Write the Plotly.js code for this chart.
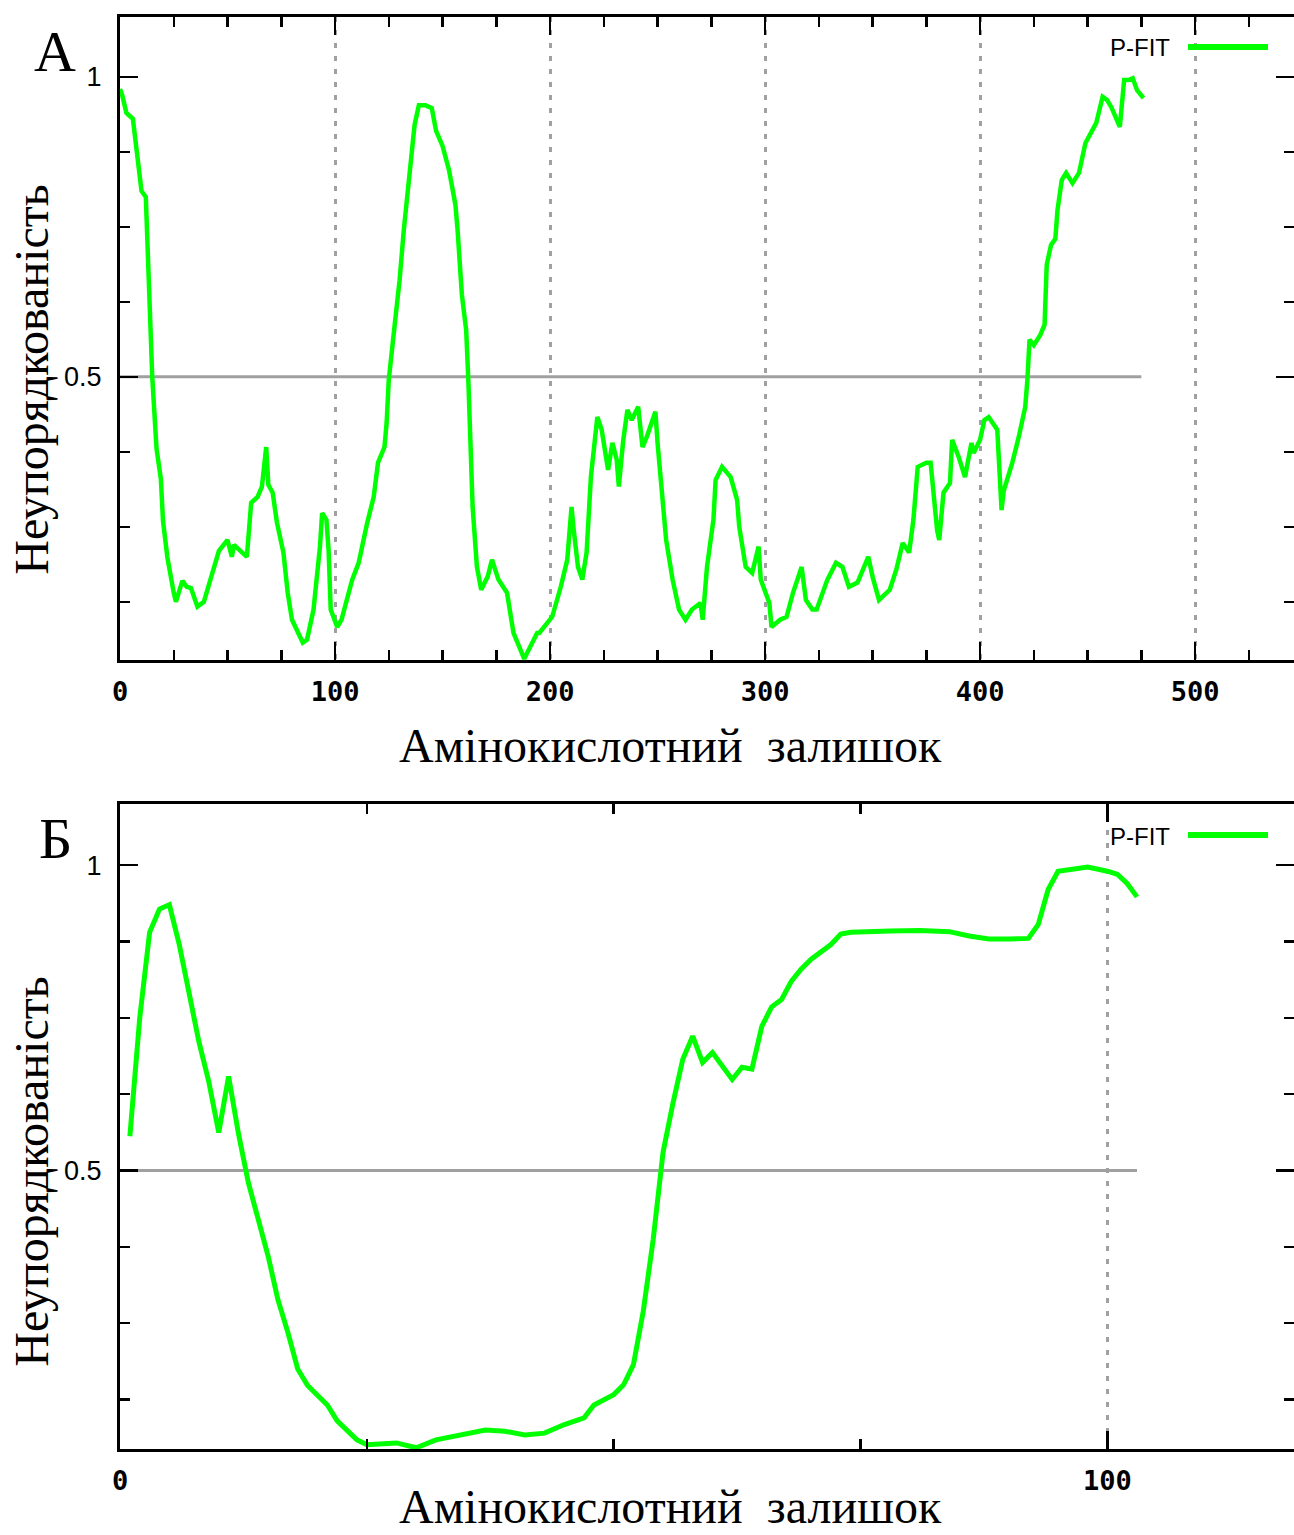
<!DOCTYPE html>
<html>
<head>
<meta charset="utf-8">
<script src="https://cdn.plot.ly/plotly-3.0.1.min.js"></script>
<style>html,body{margin:0;padding:0;background:#fff;}#chart{width:1294px;height:1535px;}</style>
</head>
<body>
<div id="chart"></div>
<script>
// Panel A: residue position and disorder score
const residueA = [0,1,3,6,8,10,12,13,14,15,17,19,20,22,25,26,29,31,33,36,39,43,46,50,52,53,59,61,64,66,68,69,71,73,76,78,80,85,87,90,93,94,96,97,98,101,103,108,111,115,118,120,123,124,125,128,130,132,135,137,139,142,145,147,150,153,156,157,159,161,162,163,164,166,168,171,173,176,180,183,188,194,195,201,205,208,209,210,211,213,215,217,219,221,222,224,227,229,231,232,234,236,238,241,243,245,249,250,252,254,257,260,263,266,270,271,273,276,277,280,284,287,288,291,294,297,298,302,303,307,310,313,317,319,322,324,329,333,336,339,343,348,350,353,358,361,364,367,369,371,375,377,380,381,383,386,387,390,393,396,397,400,402,404,408,410,411,415,418,421,422,423,425,428,430,431,433,435,436,438,440,443,446,449,454,457,459,461,465,467,469,471,473,476];
const disorderA = [0.98,0.97,0.94,0.93,0.87,0.81,0.80,0.70,0.61,0.50,0.38,0.33,0.26,0.20,0.14,0.125,0.16,0.15,0.148,0.117,0.125,0.173,0.21,0.228,0.20,0.22,0.20,0.29,0.30,0.317,0.383,0.32,0.307,0.257,0.207,0.14,0.095,0.057,0.062,0.112,0.217,0.273,0.262,0.212,0.112,0.083,0.095,0.162,0.19,0.257,0.30,0.357,0.383,0.423,0.495,0.595,0.66,0.745,0.862,0.92,0.953,0.953,0.948,0.91,0.885,0.845,0.787,0.745,0.637,0.578,0.495,0.383,0.283,0.183,0.145,0.167,0.195,0.162,0.14,0.073,0.03,0.073,0.073,0.10,0.15,0.195,0.24,0.283,0.245,0.183,0.162,0.207,0.333,0.412,0.433,0.412,0.345,0.39,0.362,0.317,0.393,0.445,0.428,0.45,0.383,0.40,0.442,0.39,0.312,0.228,0.162,0.112,0.095,0.112,0.123,0.095,0.183,0.262,0.328,0.35,0.333,0.295,0.25,0.183,0.173,0.217,0.162,0.123,0.083,0.095,0.10,0.14,0.183,0.128,0.112,0.112,0.162,0.19,0.183,0.15,0.157,0.20,0.167,0.128,0.145,0.178,0.223,0.207,0.262,0.35,0.357,0.357,0.245,0.228,0.307,0.323,0.395,0.367,0.333,0.39,0.373,0.395,0.428,0.433,0.412,0.278,0.31,0.357,0.40,0.45,0.495,0.562,0.553,0.57,0.587,0.687,0.72,0.73,0.778,0.828,0.84,0.823,0.84,0.89,0.923,0.967,0.962,0.95,0.917,0.995,0.995,0.998,0.978,0.965];

// Panel B: residue position and disorder score
const residueB = [1,2,3,4,5,6,7,8,9,10,11,12,13,14,15,16,17,18,19,21,22,24,25,28,29,30,32,35,37,39,41,43,45,47,48,50,51,52,53,54,55,56,57,58,59,60,61,62,63,64,65,66,67,68,69,70,72,73,74,76,78,81,84,86,88,90,92,93,94,95,96,98,100,101,102,103];
const disorderB = [0.556,0.75,0.89,0.928,0.935,0.87,0.79,0.71,0.645,0.562,0.654,0.56,0.48,0.42,0.36,0.288,0.235,0.175,0.148,0.116,0.09,0.059,0.051,0.054,0.05,0.046,0.059,0.068,0.075,0.073,0.067,0.07,0.084,0.095,0.116,0.133,0.149,0.182,0.27,0.387,0.53,0.61,0.682,0.72,0.677,0.693,0.67,0.649,0.669,0.666,0.736,0.768,0.78,0.81,0.83,0.846,0.87,0.887,0.89,0.89,0.892,0.893,0.891,0.884,0.879,0.879,0.88,0.903,0.96,0.99,0.993,0.997,0.99,0.985,0.97,0.948];

// Threshold lines (0.5) spanning each sequence
const thresholdA_x = [0, 475];
const thresholdA_y = [0.5, 0.5];
const thresholdB_x = [0, 103];
const thresholdB_y = [0.5, 0.5];

const panelLabels = ['А', 'Б'];
const yTitle = 'Неупорядкованість';
const xTitle = 'Амінокислотний&nbsp;&nbsp;залишок';
const seriesName = 'P-FIT';

const green = '#00ff00';
const grey = '#a0a0a0';

const traces = [
  {x: thresholdA_x, y: thresholdA_y, xaxis: 'x', yaxis: 'y', mode: 'lines', line: {color: grey, width: 3}, showlegend: false, hoverinfo: 'skip'},
  {x: residueA, y: disorderA, xaxis: 'x', yaxis: 'y', mode: 'lines', name: seriesName, line: {color: green, width: 4.5}, showlegend: false},
  {x: thresholdB_x, y: thresholdB_y, xaxis: 'x2', yaxis: 'y2', mode: 'lines', line: {color: grey, width: 3}, showlegend: false, hoverinfo: 'skip'},
  {x: residueB, y: disorderB, xaxis: 'x2', yaxis: 'y2', mode: 'lines', name: seriesName, line: {color: green, width: 5}, showlegend: false}
];

const tickFontX = {family: '"DejaVu Sans Mono", monospace', size: 27, color: '#000', weight: 'bold'};
const tickFontY = {family: '"Liberation Sans", Arial, sans-serif', size: 27, color: '#000'};

function xAxis(range, anchor) {
  return {
    anchor: anchor, range: range, tick0: 0, dtick: 100,
    showline: true, linecolor: '#000', linewidth: 3, mirror: 'allticks',
    ticks: 'inside', ticklen: 18, tickwidth: 2.5, tickcolor: '#000',
    minor: {dtick: 25, tick0: 0, ticks: 'inside', ticklen: 10, tickwidth: 2.5, tickcolor: '#000', showgrid: false},
    showgrid: true, gridcolor: grey, gridwidth: 3, griddash: '5px,8px',
    zeroline: false, tickfont: tickFontX, ticklabelstandoff: 6
  };
}
function yAxis(range, domain, anchor) {
  return {
    anchor: anchor, domain: domain, range: range, tick0: 0, dtick: 0.5,
    showline: true, linecolor: '#000', linewidth: 3, mirror: 'allticks',
    ticks: 'inside', ticklen: 18, tickwidth: 2.5, tickcolor: '#000',
    minor: {dtick: 0.125, tick0: 0, ticks: 'inside', ticklen: 10, tickwidth: 2.5, tickcolor: '#000', showgrid: false},
    showgrid: false, zeroline: false, tickfont: tickFontY, ticklabelstandoff: 10
  };
}

const serif = '"Liberation Serif", "Times New Roman", serif';

const layout = {
  width: 1294, height: 1535,
  margin: {l: 120, r: 0, t: 17, b: 86},
  paper_bgcolor: '#fff', plot_bgcolor: '#fff',
  showlegend: false,
  xaxis: xAxis([0, 546], 'y'),
  yaxis: yAxis([0.028, 1.1], [0.551, 1], 'x'),
  xaxis2: xAxis([0, 118.9], 'y2'),
  yaxis2: yAxis([0.044, 1.1], [0, 0.4504], 'x2'),
  annotations: [
    {text: panelLabels[0], xref: 'paper', yref: 'paper', x: -0.055, y: 1.0, xanchor: 'center', yanchor: 'top', showarrow: false, font: {family: serif, size: 58, color: '#000'}, yshift: 0},
    {text: panelLabels[1], xref: 'paper', yref: 'paper', x: -0.055, y: 0.4504, xanchor: 'center', yanchor: 'top', showarrow: false, font: {family: serif, size: 58, color: '#000'}, yshift: 0},
    {text: yTitle, xref: 'paper', yref: 'paper', x: -0.076, y: (1449-380)/1432, xanchor: 'center', yanchor: 'middle', textangle: -90, showarrow: false, font: {family: serif, size: 48, color: '#000'}},
    {text: yTitle, xref: 'paper', yref: 'paper', x: -0.076, y: (1449-1172)/1432, xanchor: 'center', yanchor: 'middle', textangle: -90, showarrow: false, font: {family: serif, size: 48, color: '#000'}},
    {text: xTitle, xref: 'paper', yref: 'paper', x: (670-120)/1174, y: (1449-745)/1432, xanchor: 'center', yanchor: 'middle', showarrow: false, font: {family: serif, size: 48, color: '#000'}},
    {text: xTitle, xref: 'paper', yref: 'paper', x: (670-120)/1174, y: (1449-1534)/1432, xanchor: 'center', yanchor: 'bottom', showarrow: false, font: {family: serif, size: 48, color: '#000'}, borderpad: 0},
    {text: seriesName, xref: 'paper', yref: 'paper', x: (1172-120)/1174, y: (1449-48)/1432, xanchor: 'right', yanchor: 'middle', showarrow: false, font: {family: '"Liberation Sans", Arial, sans-serif', size: 24, color: '#000'}},
    {text: seriesName, xref: 'paper', yref: 'paper', x: (1172-120)/1174, y: (1449-836)/1432, xanchor: 'right', yanchor: 'middle', showarrow: false, font: {family: '"Liberation Sans", Arial, sans-serif', size: 24, color: '#000'}}
  ],
  shapes: [
    {type: 'line', xref: 'paper', yref: 'paper', x0: (1188-120)/1174, x1: (1268-120)/1174, y0: (1449-47)/1432, y1: (1449-47)/1432, line: {color: green, width: 6}},
    {type: 'line', xref: 'paper', yref: 'paper', x0: (1188-120)/1174, x1: (1268-120)/1174, y0: (1449-835)/1432, y1: (1449-835)/1432, line: {color: green, width: 6}}
  ]
};

Plotly.newPlot('chart', traces, layout, {staticPlot: true, displayModeBar: false});
</script>
</body>
</html>
